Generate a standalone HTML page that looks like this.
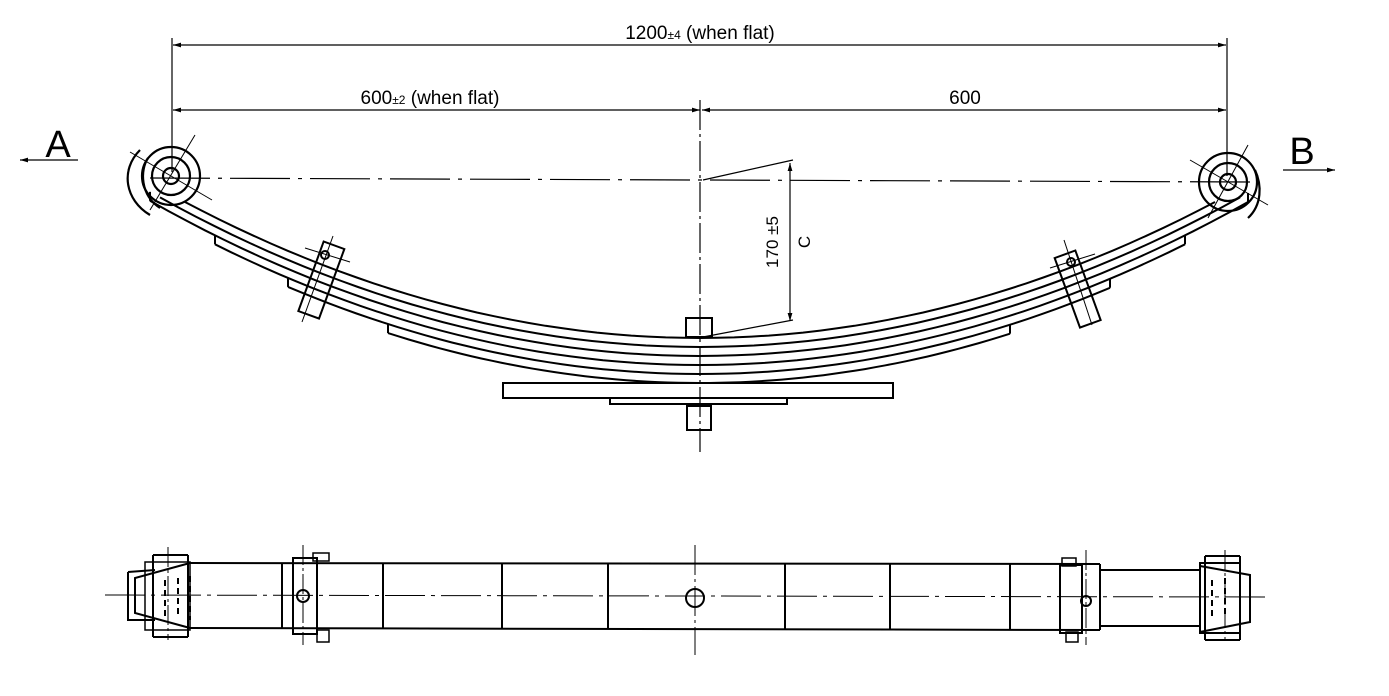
<!DOCTYPE html>
<html><head><meta charset="utf-8"><style>
html,body{margin:0;padding:0;background:#fff}
svg{display:block}
text{font-family:"Liberation Sans",sans-serif;fill:#000}
</style></head><body>
<svg id="s" width="1389" height="696" viewBox="0 0 1389 696" xmlns="http://www.w3.org/2000/svg" stroke="#000" fill="none" stroke-width="2">
<defs>
<marker id="ar" viewBox="0 0 10 10" refX="10" refY="5" markerWidth="10" markerHeight="8" orient="auto-start-reverse" markerUnits="userSpaceOnUse"><path d="M0,2 L10,5 L0,8 Z" fill="#000" stroke="none"/></marker>
</defs>
<!-- dimensions -->
<g stroke-width="1.2">
<line x1="172" y1="38" x2="172" y2="172"/>
<line x1="1227" y1="38" x2="1227" y2="176"/>
<line x1="173" y1="45" x2="1226" y2="45" marker-start="url(#ar)" marker-end="url(#ar)"/>
<line x1="173" y1="110" x2="700" y2="110" marker-start="url(#ar)" marker-end="url(#ar)"/>
<line x1="702" y1="110" x2="1226" y2="110" marker-start="url(#ar)" marker-end="url(#ar)"/>
<line x1="700" y1="100" x2="700" y2="452" stroke-dasharray="30,4,3,4"/>
<line x1="150" y1="178" x2="1250" y2="182" stroke-dasharray="60,8,4,8"/>
<line x1="790" y1="163" x2="790" y2="321" marker-start="url(#ar)" marker-end="url(#ar)"/>
<line x1="703" y1="180" x2="793" y2="160"/>
<line x1="703" y1="337" x2="793" y2="320"/>
<line x1="20" y1="160" x2="78" y2="160" marker-start="url(#ar)"/>
<line x1="1283" y1="170" x2="1335" y2="170" marker-end="url(#ar)"/>
</g>
<g stroke="none">
<text x="700" y="39" font-size="19" text-anchor="middle">1200<tspan font-size="12">±4</tspan>  (when flat)</text>
<text x="430" y="104" font-size="19" text-anchor="middle">600<tspan font-size="12">±2</tspan>  (when flat)</text>
<text x="965" y="104" font-size="19" text-anchor="middle">600</text>
<text transform="translate(778,242) rotate(-90)" font-size="17" text-anchor="middle">170 ±5</text>
<text transform="translate(810,242) rotate(-90)" font-size="17" text-anchor="middle">C</text>
<text x="58" y="157" font-size="38" text-anchor="middle">A</text>
<text x="1302" y="164" font-size="38" text-anchor="middle">B</text>
</g>
<g id="leaves"></g>
<!-- eyes -->
<g stroke-width="2.2">
<circle cx="171" cy="176" r="8"/><circle cx="171" cy="176" r="19"/><circle cx="171" cy="176" r="29"/>
<path d="M150,215 C125,200 120,170 140,150"/>
<path d="M160,208 C140,195 140,170 148,158"/>
<circle cx="1228" cy="182" r="8"/><circle cx="1228" cy="182" r="19"/><circle cx="1228" cy="182" r="29"/>
<path d="M1248,218 C1262,205 1262,185 1255,170"/>
</g>
<g stroke-width="1">
<line x1="130" y1="152" x2="212" y2="200"/><line x1="195" y1="135" x2="150" y2="210"/>
<line x1="1190" y1="160" x2="1268" y2="205"/><line x1="1248" y1="145" x2="1208" y2="218"/>
</g>
<!-- clamps -->
<g stroke-width="2">
<rect x="-11" y="-38" width="22" height="74" transform="translate(321,281) rotate(20)"/>
<circle cx="325" cy="255" r="4"/>
<line x1="305" y1="248" x2="350" y2="262" stroke-width="1"/>
<line x1="333" y1="236" x2="302" y2="322" stroke-width="1"/>
<rect x="-11" y="-38" width="22" height="74" transform="translate(1078,290) rotate(-20)"/>
<circle cx="1071" cy="262" r="4"/>
<line x1="1050" y1="268" x2="1095" y2="254" stroke-width="1"/>
<line x1="1064" y1="240" x2="1092" y2="325" stroke-width="1"/>
</g>
<!-- center -->
<g stroke-width="2">
<rect x="503" y="383" width="390" height="15"/>
<rect x="610" y="398" width="177" height="6"/>
<rect x="686" y="318" width="26" height="19"/>
<rect x="687" y="406" width="24" height="24"/>
</g>
<!-- bottom view -->
<g stroke-width="1">
<line x1="105" y1="595" x2="1270" y2="597" stroke-dasharray="40,6,4,6"/>
<line x1="695" y1="545" x2="695" y2="655" stroke-dasharray="30,4,3,4"/>
<line x1="168" y1="547" x2="168" y2="640" stroke-dasharray="20,3,3,3"/>
<line x1="303" y1="545" x2="303" y2="645" stroke-dasharray="20,3,3,3"/>
<line x1="1086" y1="550" x2="1086" y2="645" stroke-dasharray="20,3,3,3"/>
<line x1="1225" y1="550" x2="1225" y2="640" stroke-dasharray="20,3,3,3"/>
</g>
<g stroke-width="2">
<line x1="190" y1="563" x2="1100" y2="564"/>
<line x1="190" y1="628" x2="1100" y2="630"/>
<path d="M190,563 L135,578 L135,613 L190,628"/>
<path d="M145,562 L190,562 L190,630 L145,630 Z" stroke-width="1.5"/>
<path d="M128,572 L155,570 M128,572 L128,620 L155,620" />
<line x1="153" y1="555" x2="188" y2="555"/><line x1="153" y1="637" x2="188" y2="637"/>
<line x1="153" y1="555" x2="153" y2="637"/><line x1="188" y1="555" x2="188" y2="637"/>
<line x1="282" y1="563" x2="282" y2="628"/>
<rect x="293" y="558" width="24" height="76"/>
<circle cx="303" cy="596" r="6"/>
<rect x="313" y="553" width="16" height="8" stroke-width="1.5"/><rect x="317" y="630" width="12" height="12" stroke-width="1.5"/>
<line x1="383" y1="564" x2="383" y2="629"/>
<line x1="502" y1="564" x2="502" y2="629"/>
<line x1="608" y1="564" x2="608" y2="629"/>
<circle cx="695" cy="598" r="9"/>
<line x1="785" y1="564" x2="785" y2="630"/>
<line x1="890" y1="564" x2="890" y2="630"/>
<line x1="1010" y1="564" x2="1010" y2="630"/>
<rect x="1060" y="565" width="22" height="68"/>
<circle cx="1086" cy="601" r="5"/>
<rect x="1062" y="558" width="14" height="8" stroke-width="1.5"/><rect x="1066" y="632" width="12" height="10" stroke-width="1.5"/>
<line x1="1100" y1="564" x2="1100" y2="630"/>
<line x1="1100" y1="570" x2="1200" y2="570"/><line x1="1100" y1="626" x2="1200" y2="626"/>
<path d="M1200,566 L1250,575 L1250,622 L1200,632"/>
<rect x="1200" y="563" width="40" height="70"/>
<line x1="1205" y1="556" x2="1240" y2="556"/><line x1="1205" y1="640" x2="1240" y2="640"/>
<line x1="1205" y1="556" x2="1205" y2="640"/><line x1="1240" y1="556" x2="1240" y2="640"/>
</g>
<g stroke-width="2" stroke-dasharray="6,4">
<line x1="165" y1="580" x2="165" y2="616"/><line x1="178" y1="578" x2="178" y2="618"/><line x1="190" y1="576" x2="190" y2="620"/>
<line x1="1212" y1="580" x2="1212" y2="616"/><line x1="1225" y1="578" x2="1225" y2="618"/>
</g>
</svg>
<script>
(function(){
var g=document.getElementById('leaves');var NS='http://www.w3.org/2000/svg';
function f(x,d){return 338+d-143*Math.pow((x-700)/528,2);}
function seg(x1,x2,d){var p='';for(var x=x1;x<=x2+0.01;x+=(x2-x1)/60){p+=(p?'L':'M')+x.toFixed(1)+','+f(x,d).toFixed(1);}var e=document.createElementNS(NS,'path');e.setAttribute('d',p);g.appendChild(e);}
function cap(x,d0,d1){var e=document.createElementNS(NS,'line');e.setAttribute('x1',x);e.setAttribute('x2',x);e.setAttribute('y1',f(x,d0));e.setAttribute('y2',f(x,d1));g.appendChild(e);}
seg(185,1215,0);seg(160,1240,9);seg(150,1248,18);
seg(215,1185,27);seg(288,1110,36);seg(388,1010,45);
cap(150,9,18);cap(1248,9,18);cap(215,18,27);cap(1185,18,27);cap(288,27,36);cap(1110,27,36);cap(388,36,45);cap(1010,36,45);
})();
</script>
</body></html>
